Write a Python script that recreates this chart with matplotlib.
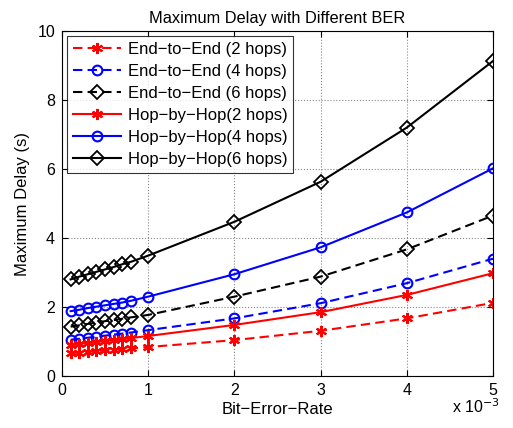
import matplotlib
matplotlib.use("Agg")
import matplotlib.pyplot as plt

plt.rcParams['font.family'] = ['Liberation Sans', 'DejaVu Sans']

ber = [0.1, 0.2, 0.3, 0.4, 0.5, 0.6, 0.7, 0.8, 1.0, 2.0, 3.0, 4.0, 5.0]

e2e_2 = [0.66, 0.68, 0.70, 0.72, 0.74, 0.76, 0.78, 0.80, 0.84, 1.04, 1.31, 1.67, 2.12]
e2e_4 = [1.05, 1.08, 1.11, 1.14, 1.17, 1.20, 1.23, 1.26, 1.33, 1.67, 2.11, 2.69, 3.40]
e2e_6 = [1.43, 1.47, 1.51, 1.55, 1.59, 1.62, 1.66, 1.70, 1.77, 2.30, 2.88, 3.67, 4.65]
hbh_2 = [0.90, 0.93, 0.96, 0.99, 1.01, 1.04, 1.07, 1.10, 1.16, 1.48, 1.85, 2.35, 2.98]
hbh_4 = [1.88, 1.92, 1.97, 2.01, 2.05, 2.09, 2.13, 2.18, 2.30, 2.95, 3.73, 4.74, 6.02]
hbh_6 = [2.80, 2.88, 2.95, 3.02, 3.09, 3.16, 3.24, 3.31, 3.49, 4.47, 5.63, 7.20, 9.13]

labels = ['End\u2212to\u2212End (2 hops)', 'End\u2212to\u2212End (4 hops)', 'End\u2212to\u2212End (6 hops)',
          'Hop\u2212by\u2212Hop(2 hops)', 'Hop\u2212by\u2212Hop(4 hops)', 'Hop\u2212by\u2212Hop(6 hops)']

fig = plt.figure(figsize=(5.13, 4.28), dpi=100)
ax = fig.add_axes([62/513, 1-376/428, (493-62)/513, (376-31)/428])

series = [e2e_2, e2e_4, e2e_6, hbh_2, hbh_4, hbh_6]
colors = ['red', 'blue', 'black', 'red', 'blue', 'black']
markers = [(6, 2, 0), 'o', 'D', (6, 2, 0), 'o', 'D']
styles = ['--', '--', '--', '-', '-', '-']
for y, c, m, ls, lab in zip(series, colors, markers, styles, labels):
    if m == 'o':
        ms = 7
    elif m == 'D':
        ms = 7
    else:
        ms = 8
    kw = dict(dashes=(4.5, 2.5)) if ls == '--' else {}
    ax.plot(ber, y, color=c, linestyle=ls, linewidth=1.5, marker=m, markersize=ms,
            markerfacecolor='none', markeredgecolor=c,
            markeredgewidth=1.5 if m != 'D' else 1.3, label=lab, **kw)

ax.set_xlim(0, 5)
ax.set_ylim(0, 10)
ax.set_xticks([0, 1, 2, 3, 4, 5])
ax.set_yticks([0, 2, 4, 6, 8, 10])
ax.grid(True, linestyle=':', color='#888888', linewidth=0.8)
ax.tick_params(direction='in', top=True, right=True, labelsize=11.5, length=4, pad=5)
for s in ax.spines.values():
    s.set_linewidth(0.8)

ax.set_title('Maximum Delay with Different BER', fontsize=11.8, pad=6)
ax.set_xlabel('Bit\u2212Error\u2212Rate', fontsize=12, labelpad=3)
ax.set_ylabel('Maximum Delay (s)', fontsize=12, labelpad=5)
ax.text(1.016, -0.062, 'x 10$^{-3}$', transform=ax.transAxes, ha='right', va='top', fontsize=11.5)

leg = ax.legend(loc='upper left', fontsize=12, frameon=True, fancybox=False,
                edgecolor='black', borderaxespad=0.3, handlelength=2.9,
                labelspacing=0.42, borderpad=0.35, handletextpad=0.4)
leg.get_frame().set_linewidth(0.8)

fig.savefig('out.png', dpi=100)
